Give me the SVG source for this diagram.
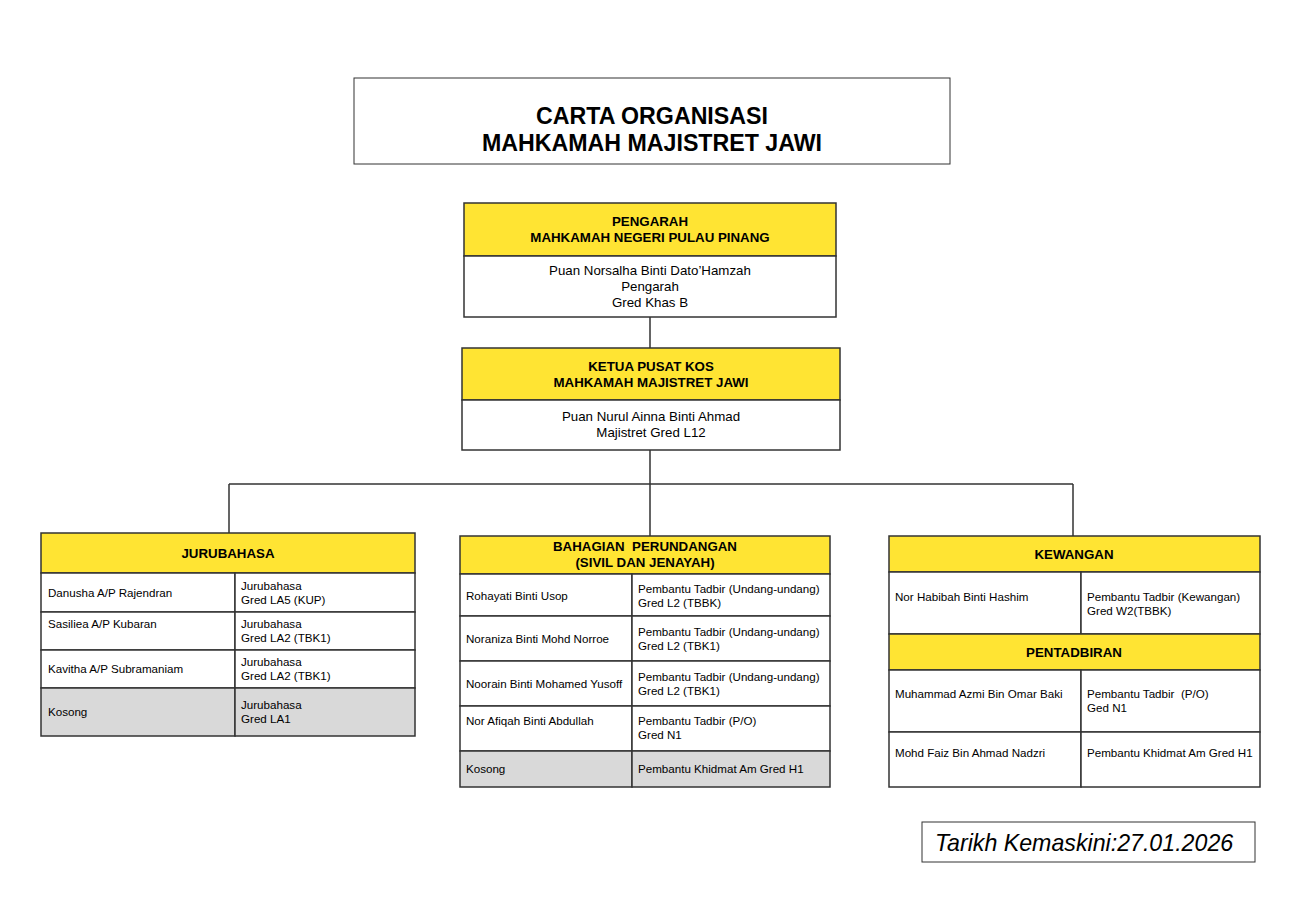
<svg xmlns="http://www.w3.org/2000/svg" width="1300" height="900" viewBox="0 0 1300 900">
<style>
text{font-family:"Liberation Sans",Arial,sans-serif;fill:#000;white-space:pre}
.t{font-size:23.2px;font-weight:bold;text-anchor:middle}
.h{font-size:13.3px;font-weight:bold;text-anchor:middle}
.b{font-size:13.3px;text-anchor:middle}
.c{font-size:11.6px}
.y{fill:#ffe433;stroke:#333;stroke-width:1.5}
.w{fill:#fff;stroke:#333;stroke-width:1.5}
.g{fill:#d9d9d9;stroke:#333;stroke-width:1.5}
.ln{stroke:#333;stroke-width:1.5;fill:none}
</style>
<rect width="1300" height="900" fill="#fff"/>
<g id="title">
<rect x="354" y="78" width="596" height="86" fill="#fff" stroke="#333" stroke-width="1"/>
<text class="t" x="652" y="124">CARTA ORGANISASI</text>
<text class="t" x="652" y="151">MAHKAMAH MAJISTRET JAWI</text>
</g>
<g id="connectors">
<path class="ln" d="M650 317V349M650 450V484M229 484H1073M229 484V533M650 484V536M1073 484V536"/>
</g>
<g id="pengarah">
<rect class="y" x="464" y="203" width="372" height="53"/>
<rect class="w" x="464" y="256" width="372" height="61"/>
<text class="h" x="650" y="226">PENGARAH</text>
<text class="h" x="650" y="242">MAHKAMAH NEGERI PULAU PINANG</text>
<text class="b" x="650" y="275">Puan Norsalha Binti Dato’Hamzah</text>
<text class="b" x="650" y="291">Pengarah</text>
<text class="b" x="650" y="307">Gred Khas B</text>
</g>
<g id="ketua">
<rect class="y" x="462" y="348" width="378" height="52"/>
<rect class="w" x="462" y="400" width="378" height="50"/>
<text class="h" x="651" y="371">KETUA PUSAT KOS</text>
<text class="h" x="651" y="387">MAHKAMAH MAJISTRET JAWI</text>
<text class="b" x="651" y="421">Puan Nurul Ainna Binti Ahmad</text>
<text class="b" x="651" y="437">Majistret Gred L12</text>
</g>
<g id="jurubahasa">
<rect class="y" x="41" y="533" width="374" height="40"/>
<text class="h" x="228" y="558">JURUBAHASA</text>
<rect class="w" x="41" y="573" width="194" height="39"/><rect class="w" x="235" y="573" width="180" height="39"/>
<rect class="w" x="41" y="612" width="194" height="38"/><rect class="w" x="235" y="612" width="180" height="38"/>
<rect class="w" x="41" y="650" width="194" height="38"/><rect class="w" x="235" y="650" width="180" height="38"/>
<rect class="g" x="41" y="688" width="194" height="48"/><rect class="g" x="235" y="688" width="180" height="48"/>
<text class="c" x="48" y="597">Danusha A/P Rajendran</text>
<text class="c" x="241" y="590">Jurubahasa</text><text class="c" x="241" y="604">Gred LA5 (KUP)</text>
<text class="c" x="48" y="628">Sasiliea A/P Kubaran</text>
<text class="c" x="241" y="628">Jurubahasa</text><text class="c" x="241" y="642">Gred LA2 (TBK1)</text>
<text class="c" x="48" y="673">Kavitha A/P Subramaniam</text>
<text class="c" x="241" y="666">Jurubahasa</text><text class="c" x="241" y="680">Gred LA2 (TBK1)</text>
<text class="c" x="48" y="716">Kosong</text>
<text class="c" x="241" y="709">Jurubahasa</text><text class="c" x="241" y="723">Gred LA1</text>
</g>
<g id="perundangan">
<rect class="y" x="460" y="536" width="370" height="38"/>
<text class="h" x="645" y="551">BAHAGIAN  PERUNDANGAN</text>
<text class="h" x="645" y="567">(SIVIL DAN JENAYAH)</text>
<rect class="w" x="460" y="574" width="172" height="42"/><rect class="w" x="632" y="574" width="198" height="42"/>
<rect class="w" x="460" y="616" width="172" height="45"/><rect class="w" x="632" y="616" width="198" height="45"/>
<rect class="w" x="460" y="661" width="172" height="45"/><rect class="w" x="632" y="661" width="198" height="45"/>
<rect class="w" x="460" y="706" width="172" height="45"/><rect class="w" x="632" y="706" width="198" height="45"/>
<rect class="g" x="460" y="751" width="172" height="36"/><rect class="g" x="632" y="751" width="198" height="36"/>
<text class="c" x="466" y="600">Rohayati Binti Usop</text>
<text class="c" x="638" y="593">Pembantu Tadbir (Undang-undang)</text><text class="c" x="638" y="607">Gred L2 (TBBK)</text>
<text class="c" x="466" y="643">Noraniza Binti Mohd Norroe</text>
<text class="c" x="638" y="636">Pembantu Tadbir (Undang-undang)</text><text class="c" x="638" y="650">Gred L2 (TBK1)</text>
<text class="c" x="466" y="688">Noorain Binti Mohamed Yusoff</text>
<text class="c" x="638" y="681">Pembantu Tadbir (Undang-undang)</text><text class="c" x="638" y="695">Gred L2 (TBK1)</text>
<text class="c" x="466" y="725">Nor Afiqah Binti Abdullah</text>
<text class="c" x="638" y="725">Pembantu Tadbir (P/O)</text><text class="c" x="638" y="739">Gred N1</text>
<text class="c" x="466" y="773">Kosong</text>
<text class="c" x="638" y="773">Pembantu Khidmat Am Gred H1</text>
</g>
<g id="kewangan">
<rect class="y" x="889" y="536" width="371" height="36"/>
<text class="h" x="1074" y="559">KEWANGAN</text>
<rect class="w" x="889" y="572" width="192" height="62"/><rect class="w" x="1081" y="572" width="179" height="62"/>
<text class="c" x="895" y="601">Nor Habibah Binti Hashim</text>
<text class="c" x="1087" y="601">Pembantu Tadbir (Kewangan)</text><text class="c" x="1087" y="615">Gred W2(TBBK)</text>
</g>
<g id="pentadbiran">
<rect class="y" x="889" y="634" width="371" height="36"/>
<text class="h" x="1074" y="657">PENTADBIRAN</text>
<rect class="w" x="889" y="670" width="192" height="62"/><rect class="w" x="1081" y="670" width="179" height="62"/>
<rect class="w" x="889" y="732" width="192" height="55"/><rect class="w" x="1081" y="732" width="179" height="55"/>
<text class="c" x="895" y="698">Muhammad Azmi Bin Omar Baki</text>
<text class="c" x="1087" y="698">Pembantu Tadbir  (P/O)</text><text class="c" x="1087" y="712">Ged N1</text>
<text class="c" x="895" y="757">Mohd Faiz Bin Ahmad Nadzri</text>
<text class="c" x="1087" y="757">Pembantu Khidmat Am Gred H1</text>
</g>
<g id="tarikh">
<rect x="922" y="822" width="333" height="40" fill="#fff" stroke="#333" stroke-width="1"/>
<text x="935" y="851" font-size="23.2" font-style="italic">Tarikh Kemaskini:27.01.2026</text>
</g>
</svg>
